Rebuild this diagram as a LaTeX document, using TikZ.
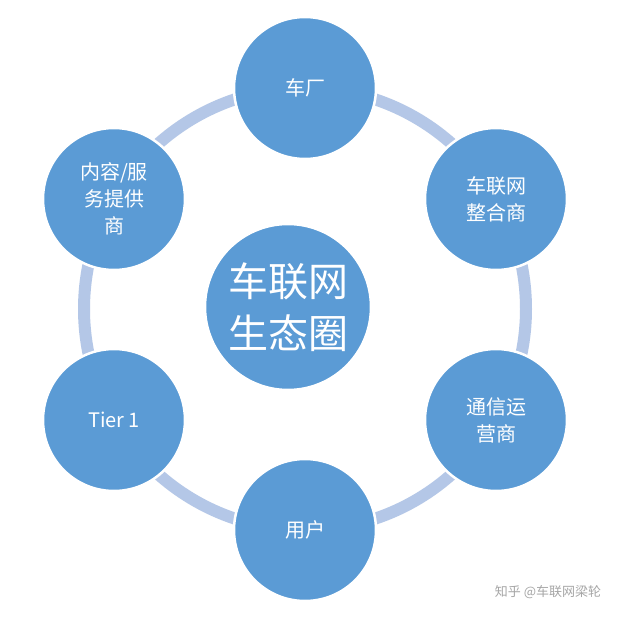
\documentclass[tikz,border=0pt]{standalone}
\usepackage{fontspec}
\setmainfont{Noto Sans CJK SC}
\begin{document}
\begin{tikzpicture}[x=1pt,y=-1pt,
  outer/.style={circle,fill=blobfill,draw=white,line width=2.5pt,minimum size=142pt,inner sep=0pt,text=white,align=center,font=\fontsize{20}{27}\selectfont},
  center/.style={circle,fill=blobfill,draw=white,line width=2.5pt,minimum size=166pt,inner sep=0pt,text=white,align=center,font=\fontsize{40}{52}\selectfont}]
\definecolor{blobfill}{HTML}{5B9BD5}
\definecolor{ringc}{HTML}{B4C7E7}
\useasboundingbox (0,0) rectangle (619,618);
\fill[white] (0,0) rectangle (619,618);
\draw[ringc,line width=12pt] (305,309) circle (221);
\node[center] (c) at (288,307) {车联网\\生态圈};
\node[outer] (a) at (305,88) {车厂};
\node[outer] (b) at (496,199) {车联网\\整合商};
\node[outer] (d) at (496,420) {通信运\\营商};
\node[outer] (e) at (305,530) {用户};
\node[outer] (f) at (114,420) {Tier 1};
\node[outer] (g) at (114,199) {内容/服\\务提供\\商};
\node[text=gray!70,font=\fontsize{13}{15}\selectfont] (w) at (548,592) {知乎 @车联网梁轮};
\end{tikzpicture}
\end{document}
